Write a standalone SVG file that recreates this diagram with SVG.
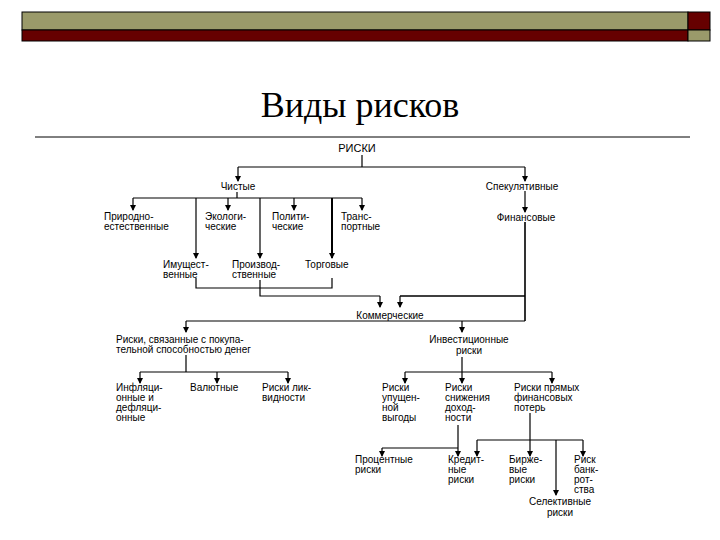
<svg xmlns="http://www.w3.org/2000/svg" width="720" height="540" viewBox="0 0 720 540">
<style>
.t{font-family:"Liberation Sans",Arial,sans-serif;font-size:10px;fill:#000}
.c{stroke:#000;stroke-width:1.2;fill:none}
.a{stroke:#000;stroke-width:1.2;fill:none;marker-end:url(#ar)}
</style>
<defs><marker id="ar" markerWidth="6" markerHeight="6" refX="5" refY="3" orient="auto" markerUnits="userSpaceOnUse"><path d="M0,0L6,3L0,6Z" fill="#000"/></marker></defs>
<rect width="720" height="540" fill="#fff"/>
<g id="header">
<rect x="22" y="12" width="666" height="18" fill="#9a9a6a" stroke="#000"/>
<rect x="22" y="30" width="666" height="11" fill="#660000" stroke="#000"/>
<rect x="688" y="12" width="22" height="18" fill="#660000" stroke="#000"/>
<rect x="688" y="30" width="22" height="11" fill="#9a9a6a" stroke="#000"/>
</g>
<text x="360" y="117" text-anchor="middle" style="font-family:'Liberation Serif','Times New Roman',serif;font-size:36px">Виды рисков</text>
<line x1="35" y1="137" x2="690" y2="137" stroke="#000" stroke-width="1"/>
<g id="connectors">
<path class="c" d="M362,155V167M238,167H525"/>
<path class="a" d="M238,167V181"/><path class="a" d="M525,167V181"/>
<path class="c" d="M237,192V198M133,198H362"/>
<path class="a" d="M133,198V210"/><path class="a" d="M228,198V210"/><path class="a" d="M294,198V210"/><path class="a" d="M362,198V210"/>
<path class="a" d="M196,198V258"/><path class="a" d="M260,198V258"/><path class="a" d="M332,198V258" style="stroke-width:2"/>
<path class="a" d="M525,191V212"/>
<path class="c" d="M196,278V288H332V278"/>
<path class="c" d="M260,280V296H380"/><path class="a" d="M380,296V307"/>
<path class="c" d="M525,222V321M525,296H400" style="stroke-width:1.6"/><path class="a" d="M400,296V307"/>
<path class="c" d="M186,321H525"/>
<path class="a" d="M186,321V332"/><path class="a" d="M462,321V332"/>
<path class="c" d="M186,355V372M140,372H288"/>
<path class="a" d="M140,372V383"/><path class="a" d="M217,372V383"/><path class="a" d="M288,372V383"/>
<path class="c" d="M462,357V372M405,372H552"/>
<path class="a" d="M405,372V383"/><path class="a" d="M462,372V383"/><path class="a" d="M552,372V383"/>
<path class="c" d="M458,425V448M382,448H458"/>
<path class="a" d="M382,448V456"/><path class="a" d="M458,448V456"/>
<path class="a" d="M530,413V456"/>
<path class="c" d="M477,440H583"/>
<path class="a" d="M477,440V456"/><path class="a" d="M583,440V456"/>
<path class="a" d="M556,440V495"/>
</g>
<g id="n-riski"><text class="t" x="357" y="152" text-anchor="middle" style="font-size:11px">РИСКИ</text></g>
<g id="n-chist"><text class="t" x="238" y="190" text-anchor="middle">Чистые</text></g>
<g id="n-spek"><text class="t" x="522" y="190" text-anchor="middle">Спекулятивные</text></g>
<g id="n-prir"><text class="t" x="104" y="220">Природно-</text><text class="t" x="104" y="230">естественные</text></g>
<g id="n-ekol"><text class="t" x="205" y="220">Экологи-</text><text class="t" x="205" y="230">ческие</text></g>
<g id="n-polit"><text class="t" x="272" y="220">Полити-</text><text class="t" x="272" y="230">ческие</text></g>
<g id="n-trans"><text class="t" x="341" y="220">Транс-</text><text class="t" x="341" y="230">портные</text></g>
<g id="n-fin"><text class="t" x="526" y="221" text-anchor="middle">Финансовые</text></g>
<g id="n-imush"><text class="t" x="163" y="268">Имущест-</text><text class="t" x="163" y="278">венные</text></g>
<g id="n-proiz"><text class="t" x="232" y="268">Производ-</text><text class="t" x="232" y="278">ственные</text></g>
<g id="n-torg"><text class="t" x="305" y="268">Торговые</text></g>
<g id="n-komm"><text class="t" x="390" y="319" text-anchor="middle">Коммерческие</text></g>
<g id="n-pokup"><text class="t" x="116" y="343">Риски, связанные с покупа-</text><text class="t" x="116" y="353">тельной способностью денег</text></g>
<g id="n-invest"><text class="t" x="469" y="343" text-anchor="middle">Инвестиционные</text><text class="t" x="469" y="354" text-anchor="middle">риски</text></g>
<g id="n-infl"><text class="t" x="116" y="391">Инфляци-</text><text class="t" x="116" y="401">онные и</text><text class="t" x="116" y="411">дефляци-</text><text class="t" x="116" y="421">онные</text></g>
<g id="n-val"><text class="t" x="190" y="391">Валютные</text></g>
<g id="n-likv"><text class="t" x="262" y="391">Риски лик-</text><text class="t" x="262" y="401">видности</text></g>
<g id="n-upush"><text class="t" x="382" y="391">Риски</text><text class="t" x="382" y="401">упущен-</text><text class="t" x="382" y="411">ной</text><text class="t" x="382" y="421">выгоды</text></g>
<g id="n-snizh"><text class="t" x="445" y="391">Риски</text><text class="t" x="445" y="401">снижения</text><text class="t" x="445" y="411">доход-</text><text class="t" x="445" y="421">ности</text></g>
<g id="n-pryam"><text class="t" x="514" y="391">Риски прямых</text><text class="t" x="514" y="401">финансовых</text><text class="t" x="514" y="411">потерь</text></g>
<g id="n-proc"><text class="t" x="355" y="463">Процентные</text><text class="t" x="355" y="473">риски</text></g>
<g id="n-kred"><text class="t" x="448" y="463">Кредит-</text><text class="t" x="448" y="473">ные</text><text class="t" x="448" y="483">риски</text></g>
<g id="n-birzh"><text class="t" x="509" y="463">Бирже-</text><text class="t" x="509" y="473">вые</text><text class="t" x="509" y="483">риски</text></g>
<g id="n-bankr"><text class="t" x="574" y="463">Риск</text><text class="t" x="574" y="473">банк-</text><text class="t" x="574" y="483">рот-</text><text class="t" x="574" y="493">ства</text></g>
<g id="n-sel"><text class="t" x="560" y="505" text-anchor="middle">Селективные</text><text class="t" x="560" y="516" text-anchor="middle">риски</text></g>
</svg>
